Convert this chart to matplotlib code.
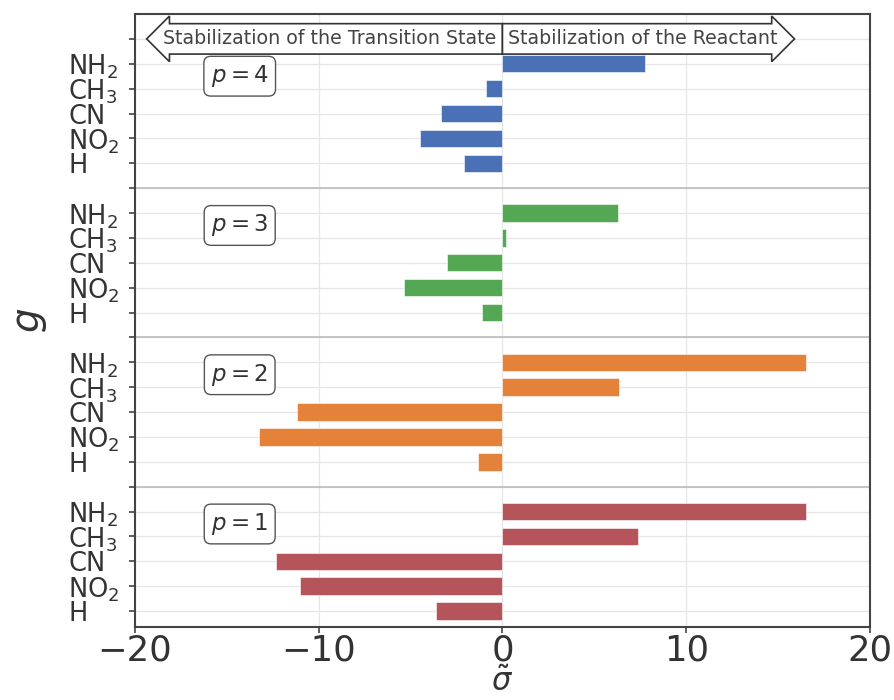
import matplotlib
matplotlib.use('Agg')
import matplotlib.pyplot as plt
import numpy as np

# substituents, bottom to top within each group
substituents = ['H', 'NO$_2$', 'CN', 'CH$_3$', 'NH$_2$']
p_values = [1, 2, 3, 4]
sigma_p1 = [-3.6, -11.0, -12.3, 7.4, 16.5]
sigma_p2 = [-1.35, -13.25, -11.2, 6.35, 16.5]
sigma_p3 = [-1.1, -5.35, -3.0, 0.2, 6.3]
sigma_p4 = [-2.1, -4.5, -3.35, -0.9, 7.75]
series = [sigma_p1, sigma_p2, sigma_p3, sigma_p4]
colors = ['#B6545B', '#E5823A', '#54A854', '#4A70B5']
xticks = [-20, -10, 0, 10, 20]

fig = plt.figure(figsize=(8.95, 7.0), dpi=100)
ax = fig.add_axes([0.1508, 0.1043, 0.972 - 0.1508, 0.98 - 0.1043])

n = len(substituents)
step = n + 1
tick_pos, tick_lab = [], []
for gi, (p, vals, c) in enumerate(zip(p_values, series, colors)):
    pos = np.arange(n) + step * gi
    ax.barh(pos, vals, height=0.7, color=c, edgecolor='white', linewidth=0.4, zorder=3)
    tick_pos.extend(list(pos) + [step * gi + n])
    tick_lab.extend(substituents + [''])
    ax.text(-14.3, step * gi + n - 1.5, '$p = %d$' % p, fontsize=16.5, ha='center', va='center',
            color='#333333', zorder=5,
            bbox=dict(boxstyle='round,pad=0.3', fc='white', ec='#555555', lw=1.0))
    if gi < len(p_values) - 1:
        ax.axhline(step * gi + n, color='#BBBBBB', lw=1.2, zorder=1)

ax.set_yticks(tick_pos)
ax.set_yticklabels(tick_lab, fontsize=18.5, color='#333333', ha='left')
ax.set_xticks(xticks)
ax.set_xticklabels([str(t).replace('-', '\u2212') for t in xticks], fontsize=25.5, color='#333333')
ax.set_xlim(-20, 20)
ax.set_ylim(-0.64, 24.0)
ax.grid(True, color='#E6E6E6', lw=0.9, zorder=0)
ax.set_axisbelow(True)
for s in ax.spines.values():
    s.set_color('#444444')
    s.set_linewidth(1.5)
ax.tick_params(axis='y', length=4, width=1.2, color='#444444', pad=44)
ax.tick_params(axis='x', length=4, width=1.2, color='#444444', pad=1)

ax.set_xlabel(r'$\tilde{\sigma}$', fontsize=22, color='#333333', labelpad=-1)
ax.set_ylabel('$g$', fontsize=28, color='#333333', labelpad=14)

fs = 13.7
padf = 0.3
off = fs * padf
ax.annotate('Stabilization of the Transition State', xy=(0, 23), xytext=(-off, 0),
            textcoords='offset points', ha='right', va='center', fontsize=fs, color='#444444',
            zorder=6, bbox=dict(boxstyle='larrow,pad=%g' % padf, fc='white', ec='#333333', lw=1.2))
ax.annotate('Stabilization of the Reactant', xy=(0, 23), xytext=(off, 0),
            textcoords='offset points', ha='left', va='center', fontsize=fs, color='#444444',
            zorder=6, bbox=dict(boxstyle='rarrow,pad=%g' % padf, fc='white', ec='#333333', lw=1.2))

fig.savefig('out.png', dpi=100)
